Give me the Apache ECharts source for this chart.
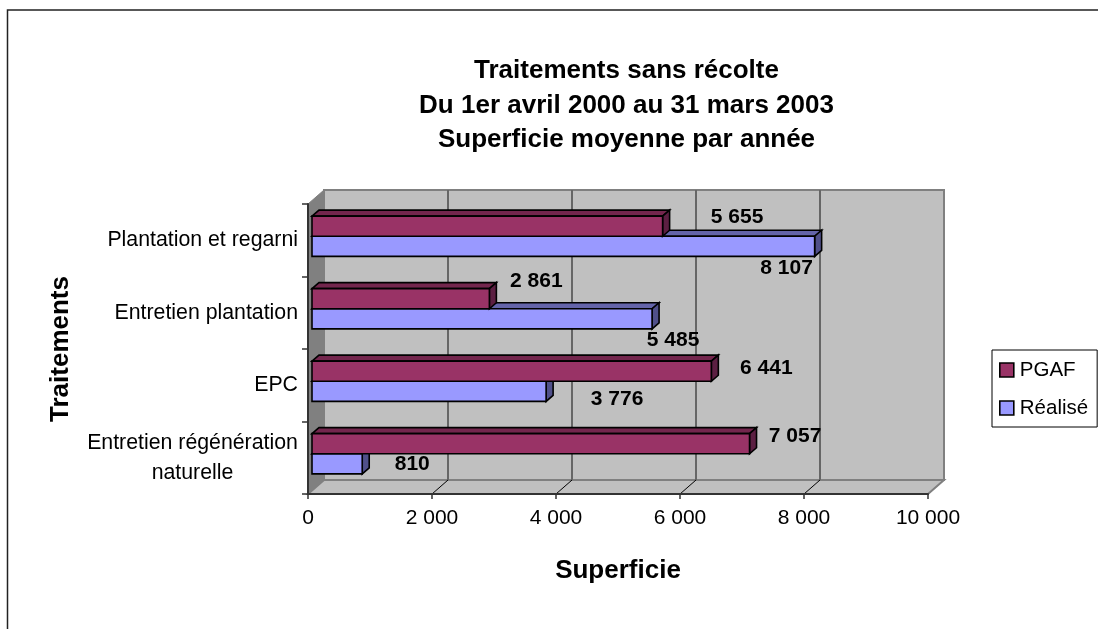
<!DOCTYPE html>
<html><head><meta charset="utf-8">
<style>html,body{margin:0;padding:0;background:#fff}#c{width:1098px;height:629px}</style>
<script src="https://cdn.jsdelivr.net/npm/echarts@6/dist/echarts.min.js"></script>
</head><body><div id="c"></div>
<script>
const categories = ['Plantation et regarni', 'Entretien plantation', 'EPC', 'Entretien régénération\nnaturelle'];
const pgaf = [5655, 2861, 6441, 7057];
const realise = [8107, 5485, 3776, 810];
const xTicks = [0, 2000, 4000, 6000, 8000, 10000];
const titleLines = ['Traitements sans récolte', 'Du 1er avril 2000 au 31 mars 2003', 'Superficie moyenne par année'];
// hand-placed label shifts from the end of each bar, as in the original
const pgafLabelShift = [[74.5, -9], [47, -17], [55, -3], [45.5, -7]];
const realiseLabelShift = [[-28, 22], [21, 21.5], [71, 7.5], [50, 0.5]];

const FONT = '"Liberation Sans", Arial, sans-serif';
const WALL_DX = 16, WALL_DY = 14;
const BAR_DX = 7, BAR_DY = 6, BAR_X = 4, BAR_Y = -4, BAR_FRAC = 20.2 / 72.6;
const fmt = v => String(v).replace(/\B(?=(\d{3})+$)/g, ' ');

function barRenderer(side, fill, top, right, shifts) {
  return function (params, api) {
    const val = api.value(0), idx = api.value(1);
    const c0 = api.coord([0, idx]), c1 = api.coord([val, idx]);
    const h = api.size([0, 1])[1] * BAR_FRAC;
    const mid = c0[1] + BAR_Y;
    const y0 = side < 0 ? mid - h : mid, y1 = y0 + h;
    const x0 = c0[0] + BAR_X, x1 = c1[0] + BAR_X;
    const line = { stroke: '#000', lineWidth: 1.6, lineJoin: 'miter' };
    const poly = (pts, f) => ({ type: 'polygon', shape: { points: pts }, style: Object.assign({ fill: f }, line) });
    const s = shifts[idx];
    return {
      type: 'group', children: [
        poly([[x0, y0], [x0 + BAR_DX, y0 - BAR_DY], [x1 + BAR_DX, y0 - BAR_DY], [x1, y0]], top),
        poly([[x1, y0], [x1 + BAR_DX, y0 - BAR_DY], [x1 + BAR_DX, y1 - BAR_DY], [x1, y1]], right),
        poly([[x0, y0], [x1, y0], [x1, y1], [x0, y1]], fill),
        { type: 'text', z2: 50, style: { text: fmt(val), x: x1 + s[0], y: (y0 + y1) / 2 + s[1], align: 'center', verticalAlign: 'middle',
          font: 'bold 21px ' + FONT, fill: '#000' } }
      ]
    };
  };
}

function wallRenderer(params, api) {
  const g = params.coordSys;
  const L = g.x, R = g.x + g.width, T = g.y, B = g.y + g.height;
  const wall = { stroke: '#808080', lineWidth: 2 };
  return {
    type: 'group', children: [
      { type: 'polygon', shape: { points: [[L + WALL_DX, T - WALL_DY], [R + WALL_DX, T - WALL_DY], [R + WALL_DX, B - WALL_DY], [L + WALL_DX, B - WALL_DY]] }, style: Object.assign({ fill: '#C0C0C0' }, wall) },
      { type: 'polygon', shape: { points: [[L, T], [L + WALL_DX, T - WALL_DY], [L + WALL_DX, B - WALL_DY], [L, B]] }, style: { fill: '#808080', stroke: '#808080', lineWidth: 1 } },
      { type: 'polygon', shape: { points: [[L, B], [L + WALL_DX, B - WALL_DY], [R + WALL_DX, B - WALL_DY], [R, B]] }, style: Object.assign({ fill: '#C0C0C0' }, wall) }
    ]
  };
}

function gridRenderer(params, api) {
  const g = params.coordSys;
  const T = g.y, B = g.y + g.height;
  const x = api.coord([api.value(0), 0])[0];
  const kids = [];
  if (api.value(0) > 0 && api.value(0) < 10000) {
    kids.push({ type: 'line', shape: { x1: x + WALL_DX, y1: T - WALL_DY, x2: x + WALL_DX, y2: B - WALL_DY }, style: { stroke: '#666', lineWidth: 2 } });
  }
  if (api.value(0) > 0) {
    kids.push({ type: 'line', shape: { x1: x, y1: B, x2: x + WALL_DX, y2: B - WALL_DY }, style: { stroke: api.value(0) < 10000 ? '#000' : '#808080', lineWidth: 1 } });
  }
  return { type: 'group', children: kids };
}

const chart = echarts.init(document.getElementById('c'), null, { renderer: 'canvas' });
chart.setOption({
  animation: false,
  backgroundColor: '#fff',
  graphic: [{ type: 'rect', silent: true, shape: { x: 7.5, y: 10, width: 1300, height: 900 }, style: { fill: 'none', stroke: '#222', lineWidth: 1.5 }, z: -1 }],
  title: {
    text: titleLines.join('\n'), left: 621.5, top: 49, textAlign: 'center',
    textStyle: { fontFamily: FONT, fontSize: 26, fontWeight: 'bold', lineHeight: 34.5, color: '#000' }
  },
  legend: {
    data: ['PGAF', 'Réalisé'], orient: 'vertical', left: 992, top: 350,
    padding: [8, 9, 7, 7], itemGap: 14, itemWidth: 14, itemHeight: 14, icon: 'rect',
    backgroundColor: '#fff', borderColor: '#000', borderWidth: 1,
    itemStyle: { borderColor: '#000', borderWidth: 1.6 },
    textStyle: { fontFamily: FONT, fontSize: 20.5, color: '#000', lineHeight: 24, padding: [0, 0, 0, 1] }
  },
  grid: { left: 308, top: 204, width: 620, height: 290, containLabel: false },
  xAxis: {
    type: 'value', min: 0, max: 10000, interval: 2000, z: 10,
    axisLine: { show: true, lineStyle: { color: '#333', width: 2 } },
    axisTick: { show: true, length: 5, lineStyle: { color: '#333', width: 1.5 } },
    splitLine: { show: false },
    axisLabel: { fontFamily: FONT, fontSize: 21, color: '#000', margin: 14, formatter: fmt },
    name: 'Superficie', nameLocation: 'middle', nameGap: 64,
    nameTextStyle: { fontFamily: FONT, fontSize: 26, fontWeight: 'bold', color: '#000' }
  },
  yAxis: {
    type: 'category', inverse: true, data: categories, z: 10,
    axisLine: { show: true, lineStyle: { color: '#333', width: 2 } },
    axisTick: { show: true, length: 6, lineStyle: { color: '#333', width: 1.5 } },
    axisLabel: {
      fontFamily: FONT, fontSize: 21.3, color: '#000', margin: 10, lineHeight: 30,
      formatter: v => v.includes('\n') ? v.split('\n').map(p => '{c|' + p + '}').join('\n') : v,
      rich: { c: { width: 211, align: 'center', fontFamily: FONT, fontSize: 21.3, lineHeight: 30, color: '#000' } }
    },
    name: 'Traitements', nameLocation: 'middle', nameGap: 234, nameRotate: 90,
    nameTextStyle: { fontFamily: FONT, fontSize: 26, fontWeight: 'bold', color: '#000' }
  },
  series: [
    { type: 'custom', name: 'walls', z: 1, silent: true, clip: false, renderItem: wallRenderer, data: [[0, 0]], encode: { x: 0, y: 1 } },
    { type: 'custom', name: 'grid', z: 2, silent: true, clip: false, renderItem: gridRenderer, data: xTicks.map(v => [v, 0]), encode: { x: 0, y: 1 } },
    { type: 'custom', name: 'Réalisé', z: 3, clip: false, itemStyle: { color: '#9999FF' },
      renderItem: barRenderer(1, '#9999FF', '#6464AA', '#50508A', realiseLabelShift),
      data: realise.map((v, i) => [v, i]), encode: { x: 0, y: 1 } },
    { type: 'custom', name: 'PGAF', z: 4, clip: false, itemStyle: { color: '#993366' },
      renderItem: barRenderer(-1, '#993366', '#73264D', '#5C1F42', pgafLabelShift),
      data: pgaf.map((v, i) => [v, i]), encode: { x: 0, y: 1 } }
  ]
});
</script></body></html>
